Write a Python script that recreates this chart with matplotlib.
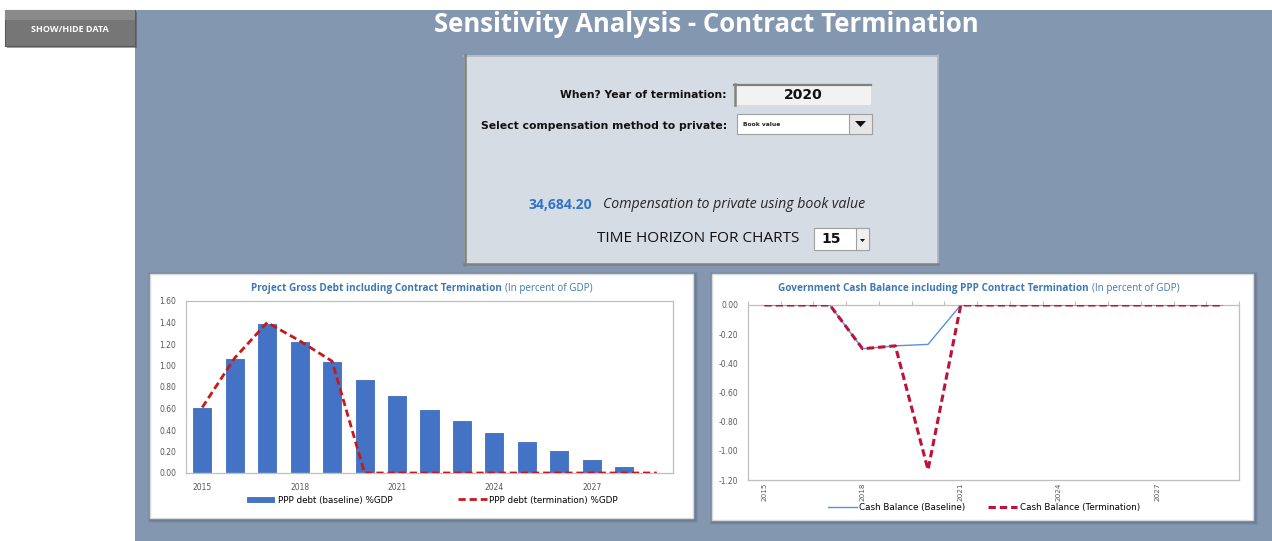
import matplotlib
matplotlib.use("Agg")
import matplotlib.pyplot as plt
from matplotlib.patches import Rectangle, Polygon
import numpy as np

# ---- data -------------------------------------------------------------
years = list(range(2015, 2030))
debt_baseline = [0.61, 1.07, 1.40, 1.23, 1.04, 0.87, 0.73, 0.60, 0.49, 0.38,
                 0.30, 0.21, 0.13, 0.065, 0.0]
debt_termination = [0.61, 1.07, 1.40, 1.23, 1.04, 0.0, 0.0, 0.0, 0.0, 0.0,
                    0.0, 0.0, 0.0, 0.0, 0.0]
cash_baseline = [0.0, 0.0, 0.0, -0.30, -0.28, -0.27, 0.0, 0.0, 0.0, 0.0,
                 0.0, 0.0, 0.0, 0.0, 0.0]
cash_termination = [0.0, 0.0, 0.0, -0.30, -0.28, -1.13, 0.0, 0.0, 0.0, 0.0,
                    0.0, 0.0, 0.0, 0.0, 0.0]
label_years = [2015, 2018, 2021, 2024, 2027]
debt_yticks = [0.0, 0.2, 0.4, 0.6, 0.8, 1.0, 1.2, 1.4, 1.6]
cash_yticks = [0.0, -0.2, -0.4, -0.6, -0.8, -1.0, -1.2]

termination_year = "2020"
compensation = 34684.20
method = "Book value"
horizon = "15"

W, H = 1272, 541
fig = plt.figure(figsize=(W / 100, H / 100), dpi=100)
fig.patch.set_facecolor("white")

BLUE = "#4472C4"
RED = "#C81818"
CRIMSON = "#BE1238"
TITLE_C = "#3F78B4"
TICK_C = "#595959"
GRID_C = "#BFBFBF"


def rect(x0, y0, x1, y1, **kw):
    # pixel coords, origin top-left
    r = Rectangle((x0 / W, 1 - y1 / H), (x1 - x0) / W, (y1 - y0) / H,
                  transform=fig.transFigure, **kw)
    fig.add_artist(r)
    return r


def ftext(x, y, s, **kw):
    return fig.text(x / W, 1 - y / H, s, **kw)


def axes_px(x0, y0, x1, y1):
    ax = fig.add_axes([x0 / W, 1 - y1 / H, (x1 - x0) / W, (y1 - y0) / H])
    ax.set_zorder(5)
    return ax


def hline(x0, x1, y, **kw):
    fig.add_artist(plt.Line2D([x0 / W, x1 / W], [1 - y / H, 1 - y / H],
                              transform=fig.transFigure, **kw))


def vline(x, y0, y1, **kw):
    fig.add_artist(plt.Line2D([x / W, x / W], [1 - y0 / H, 1 - y1 / H],
                              transform=fig.transFigure, **kw))


# ---- dashboard background ---------------------------------------------
rect(135, 10, W, H, fc="#8497B0", ec="none", zorder=0)

# show/hide button
rect(7, 12, 137, 48, fc="#4a4a4a", ec="none", alpha=0.5, zorder=1)
rect(5, 10, 135, 46, fc="#767676", ec="#5a5a5a", lw=0.8, zorder=2)
rect(5, 10, 135, 20, fc="#8a8a8a", ec="none", zorder=2)
ftext(70, 29, "SHOW/HIDE DATA", color="white", fontsize=6.5, weight="bold",
      ha="center", va="center", family="Open Sans", zorder=3)

ftext(706, 25, "Sensitivity Analysis - Contract Termination", color="white",
      fontsize=18.5, weight="bold", ha="center", va="center",
      family="Open Sans")

# ---- control box --------------------------------------------------------
rect(464, 55, 938, 265, fc="#D6DCE4", ec="none", zorder=1)
hline(464, 938, 55.5, color="#AEB6C2", lw=1.2, zorder=2)
vline(937.5, 55, 265, color="#AEB6C2", lw=1.2, zorder=2)
vline(465, 55, 265, color="#7F7F7F", lw=1.8, zorder=2)
hline(464, 938, 264, color="#7F7F7F", lw=1.8, zorder=2)

ftext(727, 95, "When? Year of termination:", fontsize=7.75, weight="bold",
      ha="right", va="center", color="#111111")
rect(734, 84, 871, 105, fc="#F2F2F2", ec="none", zorder=2)
hline(734, 871, 84.5, color="#808080", lw=1.6, zorder=3)
vline(735, 84, 105, color="#808080", lw=1.8, zorder=3)
ftext(803, 95, termination_year, fontsize=10, weight="bold", ha="center",
      va="center", color="#111111", zorder=4)

ftext(727, 126, "Select compensation method to private:", fontsize=7.8,
      weight="bold", ha="right", va="center", color="#111111")
rect(737, 114, 872, 134, fc="white", ec="#A0A0A0", lw=0.8, zorder=2)
rect(849, 114, 872, 134, fc="#E6E6E6", ec="#A0A0A0", lw=0.8, zorder=3)
fig.add_artist(Polygon([[855 / W, 1 - 121 / H], [866 / W, 1 - 121 / H],
                        [860.5 / W, 1 - 127 / H]], closed=True,
                       transform=fig.transFigure, fc="#111111", ec="none",
                       zorder=4))
ftext(743, 125, method, fontsize=4.3, weight="bold", ha="left", va="center",
      color="#222222", zorder=4)

ftext(592, 205, f"{compensation:,.2f}", fontsize=10, weight="bold",
      ha="right", va="center", color="#2E75C6", family="Open Sans")
ftext(603, 205, "Compensation to private using book value", fontsize=10.2,
      style="italic", ha="left", va="center", color="#262626",
      family="Open Sans")

ftext(799, 239, "TIME HORIZON FOR CHARTS", fontsize=11.1, ha="right",
      va="center", color="#111111", family="Open Sans")
rect(814, 228, 869, 250, fc="white", ec="#A0A0A0", lw=0.8, zorder=2)
rect(856, 228, 869, 250, fc="#F0F0F0", ec="#A0A0A0", lw=0.8, zorder=3)
fig.add_artist(Polygon([[860 / W, 1 - 239 / H], [865 / W, 1 - 239 / H],
                        [862.5 / W, 1 - 242 / H]], closed=True,
                       transform=fig.transFigure, fc="#111111", ec="none",
                       zorder=4))
ftext(831, 239, horizon, fontsize=10, weight="bold", ha="center",
      va="center", color="#111111", zorder=4)


# ---- chart panels -------------------------------------------------------
def panel(x0, y0, x1, y1):
    for k, a in [(4, 0.10), (3, 0.12), (2, 0.15)]:
        rect(x0 - k + 2, y0 - k + 2, x1 + k + 1, y1 + k + 1, fc="#3c4a5e",
             ec="none", alpha=a, zorder=1)
    rect(x0, y0, x1, y1, fc="white", ec="#D9D9D9", lw=1.0, zorder=1)


panel(150, 274, 693, 518)
panel(712, 274, 1253, 520)

x = np.arange(len(years))
tick_pos = [years.index(y) for y in label_years]
tick_lab = [str(y) for y in label_years]

# left: gross debt
ax1 = axes_px(186, 301, 673, 473)
bars = ax1.bar(x, debt_baseline, width=0.62, color=BLUE, edgecolor="white",
               linewidth=0.8, label="PPP debt (baseline) %GDP", zorder=2)
term_line, = ax1.plot(x, debt_termination, color=RED, lw=2.0,
                      dashes=(2.6, 1.4), label="PPP debt (termination) %GDP",
                      zorder=3)
ax1.set_xlim(-0.5, len(years) - 0.5)
ax1.set_ylim(0, 1.6)
ax1.set_yticks(debt_yticks)
ax1.set_yticklabels([f"{v:.2f}" for v in debt_yticks])
ax1.set_xticks(tick_pos)
ax1.set_xticklabels(tick_lab)
ax1.tick_params(length=0, labelsize=5.5, labelcolor=TICK_C, pad=7)
ax1.tick_params(axis="x", pad=7)
for s in ax1.spines.values():
    s.set_color(GRID_C)
    s.set_linewidth(0.9)
ax1.legend(handles=[bars, term_line], loc="center",
           bbox_to_anchor=(432 / W, 1 - 500 / H),
           bbox_transform=fig.transFigure, ncol=2, frameon=False,
           fontsize=6.3, handlelength=3.3, handleheight=1.0,
           columnspacing=7.5, handletextpad=0.3)
ftext(502, 288, "Project Gross Debt including Contract Termination",
      fontsize=7.2, weight="bold", color=TITLE_C, ha="right", va="center",
      family="Open Sans")
ftext(505, 288, "(In percent of GDP)", fontsize=7.1, color=TITLE_C,
      ha="left", va="center", family="Open Sans")

# right: cash balance
ax2 = axes_px(748, 305, 1239, 480)
ax2.plot(x, cash_baseline, color="#5B8FDC", lw=1.0,
         label="Cash Balance (Baseline)", zorder=3)
ax2.plot(x, cash_termination, color=CRIMSON, lw=2.2, dashes=(2.4, 1.3),
         label="Cash Balance (Termination)", zorder=4)
ax2.set_xlim(-0.5, len(years) - 0.5)
ax2.set_ylim(-1.2, 0)
ax2.set_yticks(cash_yticks)
ax2.set_yticklabels([f"{v:.2f}" for v in cash_yticks])
ax2.set_xticks(tick_pos)
ax2.set_xticklabels(tick_lab, rotation=90)
ax2.set_xticks(np.arange(len(years) + 1) - 0.5, minor=True)
ax2.tick_params(which="major", length=0, labelsize=5.5, labelcolor=TICK_C,
                pad=7)
ax2.tick_params(axis="x", which="major", pad=2, labelsize=5.2)
ax2.tick_params(axis="x", which="minor", bottom=False, top=True, length=3,
                color=GRID_C, width=0.8, direction="out")
for s in ax2.spines.values():
    s.set_color(GRID_C)
    s.set_linewidth(0.9)
ax2.legend(loc="center", bbox_to_anchor=(984 / W, 1 - 507.5 / H),
           bbox_transform=fig.transFigure, ncol=2, frameon=False,
           fontsize=6.3, handlelength=3.3, columnspacing=2.6,
           handletextpad=0.3, borderpad=0.1)
ftext(1089, 289, "Government Cash Balance including PPP Contract Termination",
      fontsize=7.2, weight="bold", color=TITLE_C, ha="right", va="center",
      family="Open Sans")
ftext(1092, 289, "(In percent of GDP)", fontsize=7.1, color=TITLE_C,
      ha="left", va="center", family="Open Sans")

fig.savefig("out.png", dpi=100)
